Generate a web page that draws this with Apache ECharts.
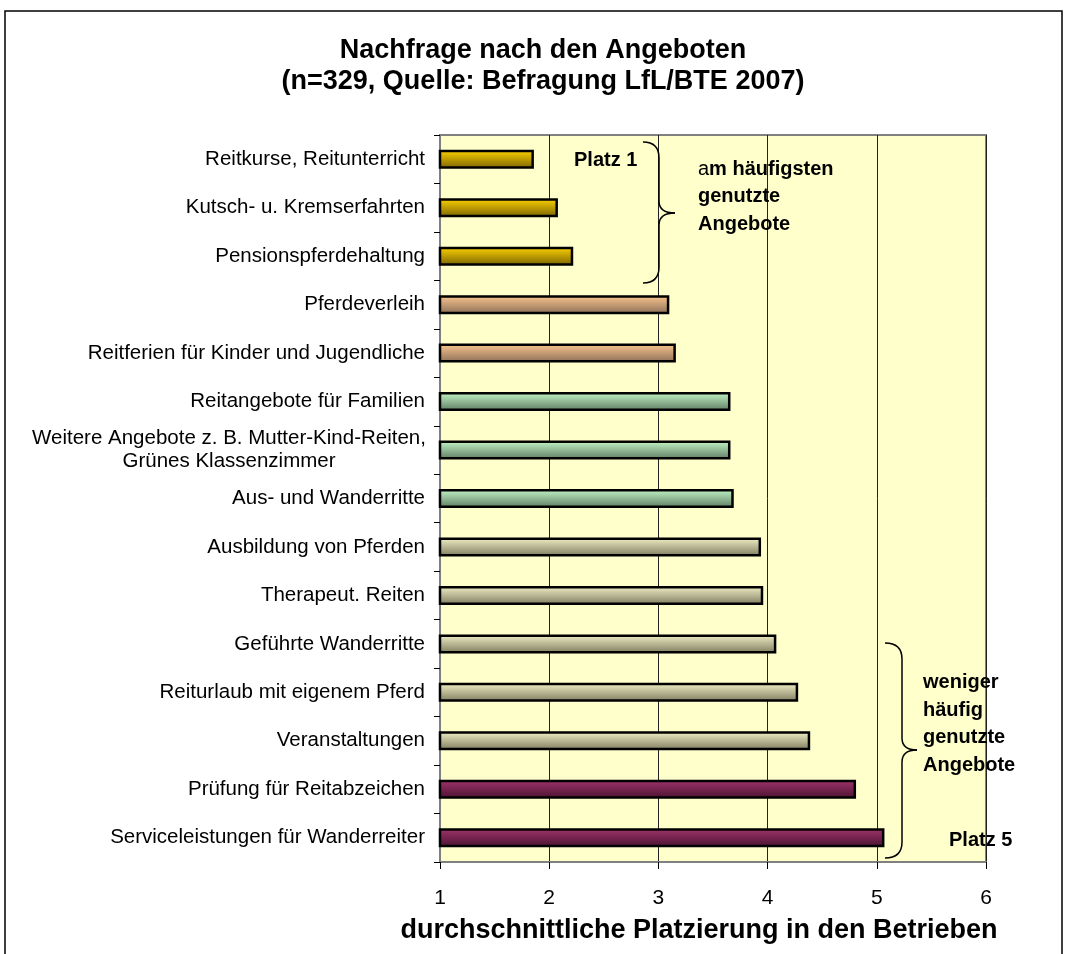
<!DOCTYPE html>
<html>
<head>
<meta charset="utf-8">
<script src="https://cdn.jsdelivr.net/npm/echarts@6/dist/echarts.min.js"></script>
<style>
  html, body { margin: 0; padding: 0; background: #fff; }
  #chart { width: 1071px; height: 954px; }
</style>
</head>
<body>
<div id="chart"></div>
<script>
// Angebote (von oben nach unten)
var categories = [
  'Reitkurse, Reitunterricht',
  'Kutsch- u. Kremserfahrten',
  'Pensionspferdehaltung',
  'Pferdeverleih',
  'Reitferien für Kinder und Jugendliche',
  'Reitangebote für Familien',
  'Weitere Angebote z. B. Mutter-Kind-Reiten,\nGrünes Klassenzimmer',
  'Aus- und Wanderritte',
  'Ausbildung von Pferden',
  'Therapeut. Reiten',
  'Geführte Wanderritte',
  'Reiturlaub mit eigenem Pferd',
  'Veranstaltungen',
  'Prüfung für Reitabzeichen',
  'Serviceleistungen für Wanderreiter'
];
// durchschnittliche Platzierung
var values = [1.86, 2.08, 2.22, 3.10, 3.16, 3.66, 3.66, 3.69, 3.94, 3.96, 4.08, 4.28, 4.39, 4.81, 5.07];
// Farbgruppe je Balken
var groups = [0, 0, 0, 1, 1, 2, 2, 2, 3, 3, 3, 3, 3, 4, 4];
var groupColors = [
  ['#FFD500', '#7A6200'],
  ['#FFC890', '#8A6E58'],
  ['#C4F8C8', '#5E7A62'],
  ['#F4F2C8', '#7C7A5E'],
  ['#A0346C', '#4A1230']
];
var xTicks = [1, 2, 3, 4, 5, 6];

var font = '"Liberation Sans", Arial, sans-serif';
var line = { stroke: '#000', lineWidth: 1.5, fill: 'none' };

// geschweifte Klammer: x0 = Enden, xv = Schaft, xp = Spitze
function brace(x0, xv, xp, y0, ym, y1) {
  var r = 16;
  var parts = [
    { type: 'bezierCurve', shape: { x1: x0, y1: y0, x2: xv, y2: y0 + r, cpx1: xv, cpy1: y0 } },
    { type: 'line', shape: { x1: xv, y1: y0 + r, x2: xv, y2: ym - 12 } },
    { type: 'bezierCurve', shape: { x1: xv, y1: ym - 12, x2: xp, y2: ym, cpx1: xv, cpy1: ym } },
    { type: 'bezierCurve', shape: { x1: xp, y1: ym, x2: xv, y2: ym + 12, cpx1: xv, cpy1: ym } },
    { type: 'line', shape: { x1: xv, y1: ym + 12, x2: xv, y2: y1 - r } },
    { type: 'bezierCurve', shape: { x1: xv, y1: y1 - r, x2: x0, y2: y1, cpx1: xv, cpy1: y1 } }
  ];
  parts.forEach(function (p) { p.style = line; p.z = 100; });
  return parts;
}

var chart = echarts.init(document.getElementById('chart'));

var graphics = [
  { type: 'rect', shape: { x: 5, y: 11, width: 1057, height: 960 }, style: { fill: 'none', stroke: '#000', lineWidth: 1.5 }, z: 100 },
  { type: 'text', left: 574, top: 150, z: 100,
    style: { text: 'Platz 1', font: 'bold 20px ' + font, fill: '#000' } },
  { type: 'text', left: 698, top: 159, z: 100,
    style: { text: '{n|a}{b|m häufigsten}\n{b|genutzte}\n{b|Angebote}',
      rich: {
        n: { font: '20px ' + font, fill: '#000', lineHeight: 27.5 },
        b: { font: 'bold 20px ' + font, fill: '#000', lineHeight: 27.5 }
      } } },
  { type: 'text', left: 923, top: 669, z: 100,
    style: { text: 'weniger\nhäufig\ngenutzte\nAngebote', font: 'bold 20px ' + font, fill: '#000', lineHeight: 27.5 } },
  { type: 'text', left: 949, top: 830, z: 100,
    style: { text: 'Platz 5', font: 'bold 20px ' + font, fill: '#000' } }
].concat(brace(643, 659, 675, 142, 213, 283), brace(885, 902, 917, 643, 750, 858));

var option = {
  animation: false,
  backgroundColor: '#fff',
  title: {
    text: 'Nachfrage nach den Angeboten\n(n=329, Quelle: Befragung LfL/BTE 2007)',
    left: 538,
    textAlign: 'center',
    top: 30,
    textStyle: { fontFamily: font, fontSize: 27, fontWeight: 'bold', color: '#000', lineHeight: 31 }
  },
  grid: {
    left: 440, right: 85, top: 135, bottom: 92,
    show: true,
    backgroundColor: '#FFFFCC',
    borderColor: '#808080',
    borderWidth: 2
  },
  xAxis: {
    type: 'value',
    min: xTicks[0],
    max: xTicks[xTicks.length - 1],
    interval: 1,
    name: 'durchschnittliche Platzierung in den Betrieben',
    nameLocation: 'middle',
    nameGap: 55,
    nameTextStyle: { fontFamily: font, fontSize: 27, fontWeight: 'bold', color: '#000', padding: [0, 28, 0, 0] },
    axisLine: { show: true, lineStyle: { color: '#808080', width: 2 } },
    axisTick: { show: true, length: 7, lineStyle: { color: '#000' } },
    axisLabel: { fontFamily: font, fontSize: 21, color: '#000', margin: 26 },
    splitLine: { show: true, lineStyle: { color: '#222', width: 1 } }
  },
  yAxis: {
    type: 'category',
    inverse: true,
    data: categories,
    axisLine: { show: true, lineStyle: { color: '#808080', width: 2 } },
    axisTick: { show: true, length: 6, lineStyle: { color: '#000' } },
    axisLabel: {
      fontFamily: font, fontSize: 20.5, color: '#000', margin: 15, lineHeight: 23,
      formatter: function (v) {
        if (v.indexOf('\n') < 0) return v;
        return v.split('\n').map(function (s) { return '{c|' + s + '}'; }).join('\n');
      },
      rich: { c: { width: 392, align: 'center', fontFamily: font, fontSize: 20.5, lineHeight: 23, color: '#000' } }
    },
    splitLine: { show: false }
  },
  series: [{
    type: 'bar',
    barWidth: 19,
    data: values.map(function (v, i) {
      var c = groupColors[groups[i]];
      return {
        value: v,
        itemStyle: {
          color: new echarts.graphic.LinearGradient(0, 0, 0, 1, [
            { offset: 0, color: c[0] },
            { offset: 1, color: c[1] }
          ]),
          borderColor: '#000',
          borderWidth: 2.5
        }
      };
    })
  }],
  graphic: graphics
};
chart.setOption(option);
</script>
</body>
</html>
